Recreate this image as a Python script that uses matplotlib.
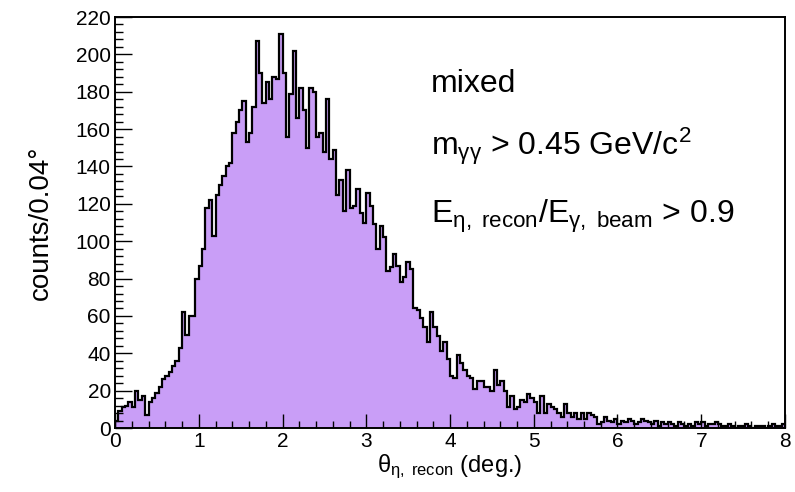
import numpy as np
import matplotlib
matplotlib.use("Agg")
import matplotlib.pyplot as plt
from matplotlib.ticker import MultipleLocator

plt.rcParams["font.family"] = ["Liberation Sans", "DejaVu Sans"]
plt.rcParams["mathtext.fontset"] = "custom"
plt.rcParams["mathtext.rm"] = "Liberation Sans"
plt.rcParams["mathtext.it"] = "Liberation Sans"
plt.rcParams["mathtext.bf"] = "Liberation Sans:bold"

# ── histogram data: 200 bins of 0.04 deg from 0 to 8 ─────────────────────────
bin_lo = 0.0
bin_hi = 8.0
counts_0_19 = [4, 9, 11, 12, 14, 11, 20, 15, 17, 7, 14, 16, 19, 22, 26, 28, 30, 33, 36, 43]
counts_20_33 = [62, 50, 60, 60, 80, 87, 96, 118, 122, 103, 125, 130, 135, 140]
counts_34_51 = [142, 158, 164, 170, 175, 153, 158, 172, 207, 190, 174, 185, 176, 188,
                187, 211, 190, 156]
counts_52_68 = [179, 202, 166, 182, 170, 150, 182, 180, 156, 158, 148, 176, 144, 149,
                125, 133, 116]
counts_69_85 = [138, 118, 119, 128, 115, 110, 126, 119, 109, 96, 108, 102, 84, 86, 93,
                87, 78]
counts_86_101 = [81, 89, 85, 64, 63, 59, 54, 46, 62, 54, 49, 41, 46, 37, 28, 27]
counts_102_120 = [39, 35, 31, 28, 27, 21, 25, 25, 22, 22, 20, 31, 23, 25, 20, 11, 17, 10, 11]
counts_121_146 = [15, 14, 18, 16, 14, 8, 17, 8, 13, 11, 10, 8, 6, 13, 8, 6, 8, 5, 8, 5,
                  8, 7, 6, 2, 3, 6]
counts_147_173 = [4, 3, 5, 2, 4, 3, 5, 4, 2, 3, 5, 4, 3, 2, 4, 1, 3, 2, 3, 2, 1, 3, 2, 1,
                  2, 1, 3]
counts_174_199 = [2, 3, 1, 2, 2, 3, 2, 1, 1, 2, 1, 0, 1, 1, 2, 1, 0, 1, 1, 1, 0, 1, 2, 1,
                  1, 2]

counts = np.array(counts_0_19 + counts_20_33 + counts_34_51 + counts_52_68 + counts_69_85
                  + counts_86_101 + counts_102_120 + counts_121_146 + counts_147_173
                  + counts_174_199, dtype=float)
edges = np.linspace(bin_lo, bin_hi, len(counts) + 1)

FILL = "#c99ef7"

fig = plt.figure(figsize=(7.95, 4.92), dpi=100)
ax = fig.add_axes([0.1447, 0.130, 0.8427, 0.8354])

ax.stairs(counts, edges, fill=True, color=FILL, zorder=1)
ax.stairs(counts, edges, color="black", linewidth=1.6, zorder=2)

ax.set_xlim(bin_lo, bin_hi)
ax.set_ylim(0, 220)

ax.xaxis.set_major_locator(MultipleLocator(1))
ax.xaxis.set_minor_locator(MultipleLocator(0.2))
ax.yaxis.set_major_locator(MultipleLocator(20))
ax.yaxis.set_minor_locator(MultipleLocator(4))
ax.tick_params(axis="both", which="both", direction="in", top=False, right=False,
               labelsize=15, width=1.0)
ax.tick_params(axis="x", which="major", length=10, pad=3)
ax.tick_params(axis="x", which="minor", length=5)
ax.tick_params(axis="y", which="major", length=12, pad=3)
ax.tick_params(axis="y", which="minor", length=6)
for spine in ax.spines.values():
    spine.set_linewidth(1.4)

ax.set_xlabel(r"$\theta_{\eta,\ \mathrm{recon}}$ (deg.)", fontsize=17, labelpad=1)
ax.set_ylabel("counts/0.04°", fontsize=20, labelpad=16)

ax.text(0.472, 0.818, "mixed", transform=ax.transAxes, fontsize=23,
        ha="left", va="baseline")
ax.text(0.472, 0.664, r"m$_{\gamma\gamma}$ > 0.45 GeV/c$^{2}$", transform=ax.transAxes,
        fontsize=23, ha="left", va="baseline")
ax.text(0.472, 0.500, r"E$_{\eta,\ \mathrm{recon}}$/E$_{\gamma,\ \mathrm{beam}}$ > 0.9",
        transform=ax.transAxes, fontsize=23, ha="left", va="baseline")

fig.savefig("out.png", dpi=100)
plt.close(fig)
